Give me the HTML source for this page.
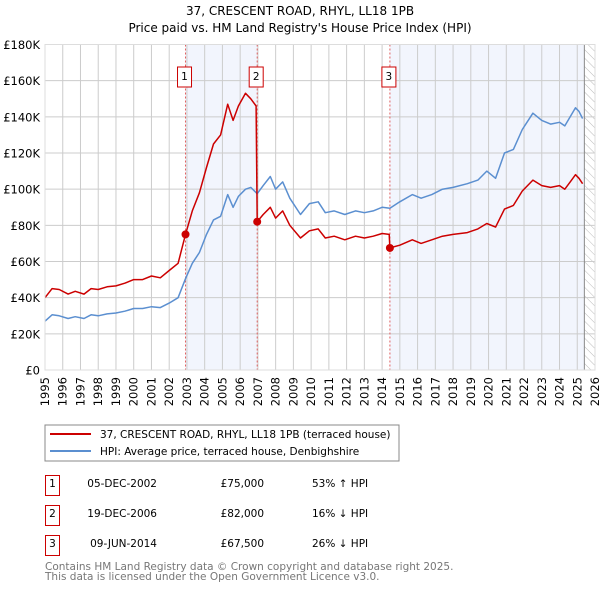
<!DOCTYPE html>
<html><head><meta charset="utf-8"><style>
body{margin:0;background:#fff;width:600px;height:590px;overflow:hidden;font-family:"DejaVu Sans","Liberation Sans",sans-serif}
svg text{font-family:"DejaVu Sans","Liberation Sans",sans-serif}
</style></head><body>
<svg id="c" width="600" height="590" xmlns="http://www.w3.org/2000/svg">
<defs><pattern id="hatch" width="6" height="6" patternUnits="userSpaceOnUse" patternTransform="rotate(-45)"><line x1="0" y1="0" x2="0" y2="6" stroke="#bbb" stroke-width="1"/></pattern></defs>
<text x="300" y="15" text-anchor="middle" font-size="12">37, CRESCENT ROAD, RHYL, LL18 1PB</text>
<text x="300" y="32" text-anchor="middle" font-size="12">Price paid vs. HM Land Registry's House Price Index (HPI)</text>
<g id="plot"></g>
<rect x="45" y="425" width="354" height="36" fill="#fff" stroke="#888"/>
<line x1="50" y1="434" x2="91" y2="434" stroke="#cc0000" stroke-width="2"/>
<text x="100" y="438" font-size="10.5">37, CRESCENT ROAD, RHYL, LL18 1PB (terraced house)</text>
<line x1="50" y1="451" x2="91" y2="451" stroke="#5b8fd0" stroke-width="2"/>
<text x="100" y="455" font-size="10.5">HPI: Average price, terraced house, Denbighshire</text>
<g font-size="10.5">
<rect x="45.5" y="475.5" width="14" height="20" fill="none" stroke="#cc0000"/><text x="52.5" y="487" text-anchor="middle">1</text>
<text x="157" y="487" text-anchor="end">05-DEC-2002</text><text x="264" y="487" text-anchor="end">£75,000</text><text x="312" y="487">53% ↑ HPI</text>
<rect x="45.5" y="505.5" width="14" height="20" fill="none" stroke="#cc0000"/><text x="52.5" y="517" text-anchor="middle">2</text>
<text x="157" y="517" text-anchor="end">19-DEC-2006</text><text x="264" y="517" text-anchor="end">£82,000</text><text x="312" y="517">16% ↓ HPI</text>
<rect x="45.5" y="535.5" width="14" height="20" fill="none" stroke="#cc0000"/><text x="52.5" y="547" text-anchor="middle">3</text>
<text x="157" y="547" text-anchor="end">09-JUN-2014</text><text x="264" y="547" text-anchor="end">£67,500</text><text x="312" y="547">26% ↓ HPI</text>
</g>
<text x="45" y="570" font-size="10.5" fill="#777">Contains HM Land Registry data © Crown copyright and database right 2025.</text>
<text x="45" y="580" font-size="10.5" fill="#777">This data is licensed under the Open Government Licence v3.0.</text>
</svg>
<script>
const hpiYears=[1995,1995.4,1995.8,1996.3,1996.7,1997.2,1997.6,1998,1998.5,1999,1999.5,2000,2000.5,2001,2001.5,2002,2002.5,2002.92,2003.3,2003.7,2004.1,2004.5,2004.9,2005.3,2005.6,2005.9,2006.3,2006.6,2006.96,2007.3,2007.7,2008,2008.4,2008.8,2009.4,2009.9,2010.4,2010.8,2011.3,2011.9,2012.5,2013,2013.5,2014,2014.44,2015,2015.7,2016.2,2016.8,2017.4,2018,2018.8,2019.4,2019.9,2020.4,2020.9,2021.4,2021.9,2022.5,2023,2023.5,2024,2024.3,2024.6,2024.9,2025.1,2025.3];
const hpiValues=[27,30.5,30,28.5,29.5,28.5,30.5,30,31,31.5,32.5,34,34,35,34.5,37,40,50.5,59,65,75,83,85,97,90,96,100,101,97.5,102,107,100,104,95,86,92,93,87,88,86,88,87,88,90,89.5,93,97,95,97,100,101,103,105,110,106,120,122,133,142,138,136,137,135,140,145,143,139];
const propYears=[1995,1995.4,1995.8,1996.3,1996.7,1997.2,1997.6,1998,1998.5,1999,1999.5,2000,2000.5,2001,2001.5,2002,2002.5,2002.92,2003.3,2003.7,2004.1,2004.5,2004.9,2005.3,2005.6,2005.9,2006.3,2006.6,2006.9,2006.96,2007.3,2007.7,2008,2008.4,2008.8,2009.4,2009.9,2010.4,2010.8,2011.3,2011.9,2012.5,2013,2013.5,2014,2014.4,2014.44,2015,2015.7,2016.2,2016.8,2017.4,2018,2018.8,2019.4,2019.9,2020.4,2020.9,2021.4,2021.9,2022.5,2023,2023.5,2024,2024.3,2024.6,2024.9,2025.1,2025.3];
const propValues=[40,45,44.5,42,43.5,42,45,44.5,46,46.5,48,50,50,52,51,55,59,75,88,98,112,125,130,147,138,146,153,150,146,82,86,90,84,88,80,73,77,78,73,74,72,74,73,74,75.5,75,67.5,69,72,70,72,74,75,76,78,81,79,89,91,99,105,102,101,102,100,104,108,106,103];
const saleYears=[2002.92,2006.96,2014.44];
const saleValues=[75,82,67.5];
const saleLabels=["1","2","3"];
const yTicks=[0,20,40,60,80,100,120,140,160,180];
const yTickLabels=["£0","£20K","£40K","£60K","£80K","£100K","£120K","£140K","£160K","£180K"];
const xTicks=[1995,1996,1997,1998,1999,2000,2001,2002,2003,2004,2005,2006,2007,2008,2009,2010,2011,2012,2013,2014,2015,2016,2017,2018,2019,2020,2021,2022,2023,2024,2025,2026];
const dataEnd=2025.4;

const X0=45,X1=595,Y0=370,Y1=44.5;
const xs=y=>X0+(y-1995)/(2026-1995)*(X1-X0);
const ys=v=>Y0-v/180*(Y0-Y1);
const NS="http://www.w3.org/2000/svg";
const g=document.getElementById('plot');
function mk(t,a){const e=document.createElementNS(NS,t);for(const k in a)e.setAttribute(k,a[k]);g.appendChild(e);return e;}
let r=mk('rect',{x:xs(saleYears[0]),y:Y1,width:xs(saleYears[1])-xs(saleYears[0]),height:Y0-Y1,fill:'#f2f5fd'});


r=mk('rect',{x:xs(saleYears[2]),y:Y1,width:xs(dataEnd)-xs(saleYears[2]),height:Y0-Y1,fill:'#f2f5fd'});


r=mk('rect',{x:xs(dataEnd),y:Y1,width:X1-xs(dataEnd),height:Y0-Y1,fill:'url(#hatch)'});


yTicks.forEach((t,i)=>{
 const l=mk('line',{x1:X0,x2:X1,y1:ys(t),y2:ys(t),stroke:'#ccc'});
 
 
 const tx=mk('text',{x:40,y:ys(t)+4.5,'text-anchor':'end','font-size':'11.5'});
 tx.textContent=yTickLabels[i];
 
 
});
xTicks.forEach(t=>{
 const l=mk('line',{x1:xs(t),x2:xs(t),y1:Y1,y2:Y0,stroke:'#ccc'});
 
 
 const tx=mk('text',{x:0,y:0,'text-anchor':'end','font-size':'11.5',transform:`translate(${xs(t)+4},${Y0+7}) rotate(-90)`});
 tx.textContent=t;
 
 
});
let el=mk('line',{x1:xs(dataEnd),x2:xs(dataEnd),y1:Y1,y2:Y0,stroke:'#888'});


saleYears.forEach((s,i)=>{
 const l=mk('line',{x1:xs(s),x2:xs(s),y1:Y1,y2:Y0,stroke:'#e06060','stroke-dasharray':'2,2'});
 
 
});
function line(xa,va,col,name){
 const d=xa.map((x,i)=>(i?'L':'M')+xs(x).toFixed(1)+','+ys(va[i]).toFixed(1)).join('');
 const p=mk('path',{d:d,fill:'none',stroke:col,'stroke-width':1.5,'stroke-linejoin':'round'});
 
 
}
line(hpiYears,hpiValues,'#5b8fd0','hpi-line');
line(propYears,propValues,'#cc0000','property-price-line');
saleYears.forEach((s,i)=>{
 const c=mk('circle',{cx:xs(s),cy:ys(saleValues[i]),r:4,fill:'#cc0000'});
 
 
 const b=mk('rect',{x:xs(s)-8,y:67,width:14,height:20,fill:'#fff',stroke:'#cc0000'});
 
 
 const t=mk('text',{x:xs(s)-1,y:80,'text-anchor':'middle','font-size':'10.5'});
 t.textContent=saleLabels[i];
 
 
});
const fr=mk('rect',{x:X0,y:Y1,width:X1-X0,height:Y0-Y1,fill:'none',stroke:'#ddd'});


</script>
</body></html>
